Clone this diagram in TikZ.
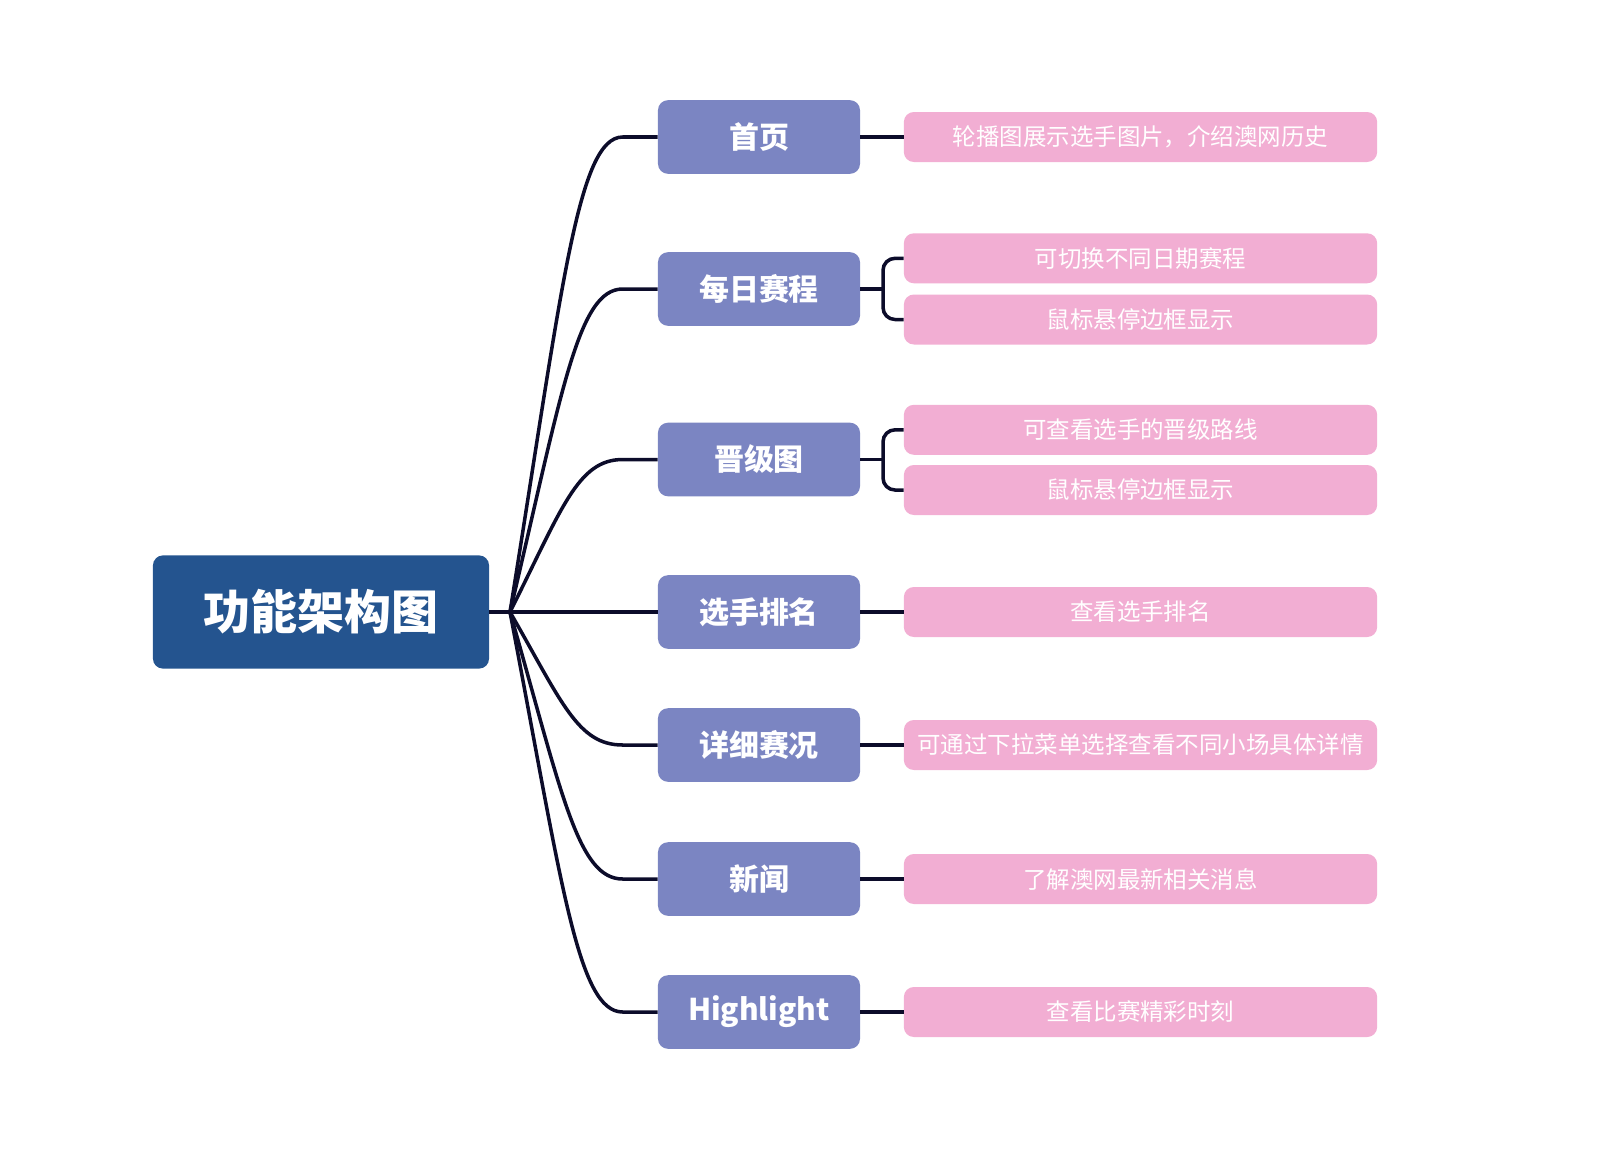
\documentclass[tikz,border=0pt]{standalone}
\usepackage{fontspec}
\setmainfont{Noto Sans CJK SC}
\usepackage{tikz}
\usetikzlibrary{calc}
\definecolor{rootblue}{HTML}{24548F}
\definecolor{branchblue}{HTML}{7B85C2}
\definecolor{leafpink}{HTML}{F2AED3}
\definecolor{linenavy}{HTML}{0C0C2A}
\tikzset{
  rootbox/.style={fill=rootblue,text=white,rounded corners=0.25cm,minimum width=8.4cm,minimum height=2.83cm,
    font=\fontsize{33.4}{38}\selectfont\bfseries},
  branchbox/.style={fill=branchblue,text=white,rounded corners=0.25cm,minimum width=5.05cm,minimum height=1.84cm,
    font=\fontsize{21.3}{25}\selectfont\bfseries},
  leafbox/.style={fill=leafpink,text=white,rounded corners=0.25cm,minimum width=11.83cm,minimum height=1.25cm,
    inner xsep=0pt,font=\fontsize{16.7}{20}\selectfont},
  link/.style={draw=linenavy,line width=2.5pt}
}

\begin{document}
\begin{tikzpicture}[x=0.025cm,y=-0.025cm]
       \useasboundingbox (0,0) rectangle (1600,1173);
       \node[rootbox] (root) at (321,612) {功能架构图};
       \coordinate (hub) at (510,612);
       \node[branchbox] (b1) at (759,137) {首页};
       \node[branchbox] (b2) at (759,289) {每日赛程};
       \node[branchbox] (b3) at (759,459.5) {晋级图};
       \node[branchbox] (b4) at (759,612) {选手排名};
       \node[branchbox] (b5) at (759,745) {详细赛况};
       \node[branchbox] (b6) at (759,879) {新闻};
       \node[branchbox] (b7) at (759,1012) {Highlight};
       \node[leafbox] (l1) at (1140.5,137) {轮播图展示选手图片，介绍澳网历史};
       \node[leafbox] (l2a) at (1140.5,258.3) {可切换不同日期赛程};
       \node[leafbox] (l2b) at (1140.5,319.5) {鼠标悬停边框显示};
       \node[leafbox] (l3a) at (1140.5,429.8) {可查看选手的晋级路线};
       \node[leafbox] (l3b) at (1140.5,490) {鼠标悬停边框显示};
       \node[leafbox] (l4) at (1140.5,612) {查看选手排名};
       \node[leafbox] (l5) at (1140.5,745) {可通过下拉菜单选择查看不同小场具体详情};
       \node[leafbox] (l6) at (1140.5,879) {了解澳网最新相关消息};
       \node[leafbox] (l7) at (1140.5,1012) {查看比赛精彩时刻};
       \draw[link] (root.east) -- (hub) -- (b4.west);
       \foreach \b in {b1,b2,b3,b5,b6,b7}
         \draw[link] (hub) .. controls ($(hub)!0.68!(hub |- \b.west) + (52,0)$) and ($(\b.west) + (-80,0)$) ..
           ($(\b.west) + (-35,0)$) -- (\b.west);
       \foreach \b/\l in {b1/l1,b4/l4,b5/l5,b6/l6,b7/l7}
         \draw[link] (\b.east) -- (\l.west);
       \coordinate (k2) at (883,289);
       \coordinate (k3) at (883,459.5);
       \draw[link] (b2.east) -- (k2);
       \draw[link,rounded corners=0.3cm] (l2a.west) -| (k2) |- (l2b.west);
       \draw[link] (b3.east) -- (k3);
       \draw[link,rounded corners=0.3cm] (l3a.west) -| (k3) |- (l3b.west);
      \end{tikzpicture}
\end{document}
